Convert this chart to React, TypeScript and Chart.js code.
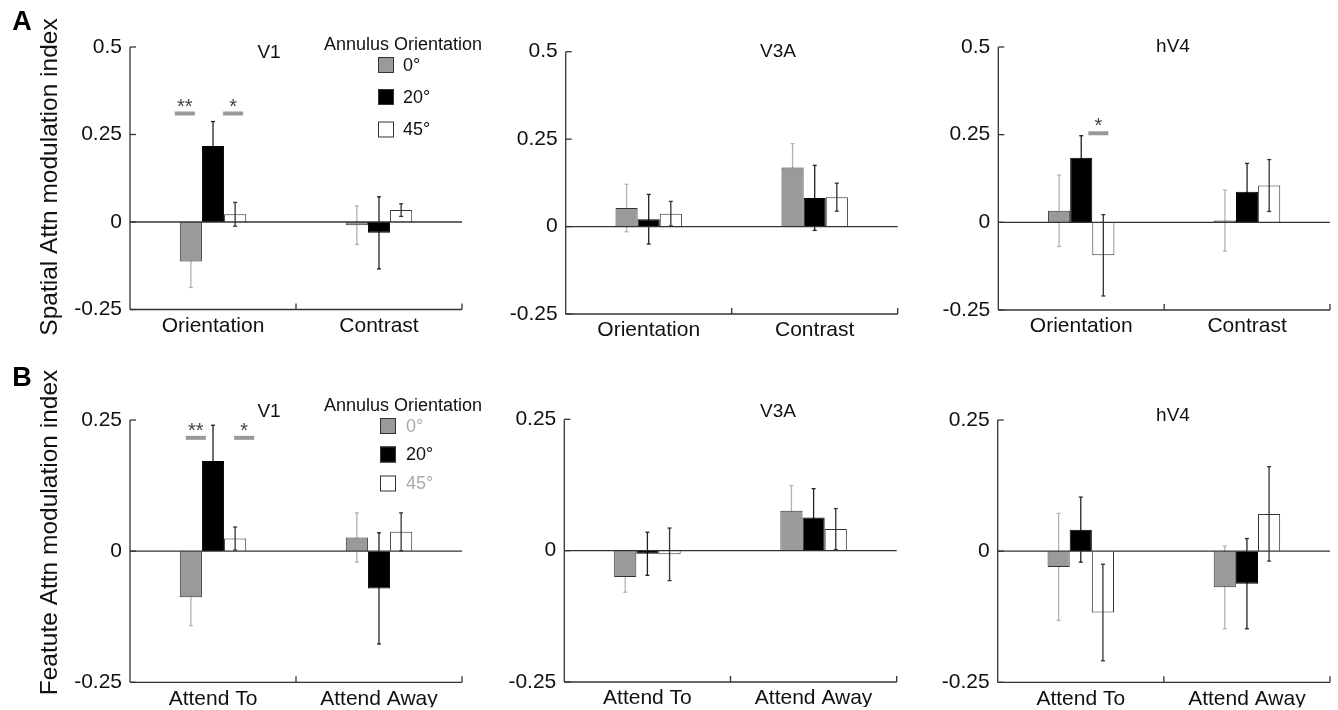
import React, { useEffect, useRef } from "react";
import { Chart, registerables } from "chart.js";
Chart.register(...registerables);

const W = 1338;
const H = 710;
const FONT = "'Liberation Sans', Arial, Helvetica, sans-serif";
const YW = 60;
const XH = 25;

// ---------- data ----------
const catsA = ["Orientation", "Contrast"];
const catsB = ["Attend To", "Attend Away"];
const orientLabels = ["0°", "20°", "45°"];
const yTicksA = [-0.25, 0, 0.25, 0.5];
const yTicksB = [-0.25, 0, 0.25];

// A: Spatial attention modulation index
const aV1_0 = [-0.113, -0.009];
const aV1_0Err = [0.074, 0.055];
const aV1_20 = [0.217, -0.031];
const aV1_20Err = [0.07, 0.103];
const aV1_45 = [0.022, 0.034];
const aV1_45Err = [0.034, 0.018];

const aV3A_0 = [0.053, 0.169];
const aV3A_0Err = [0.068, 0.068];
const aV3A_20 = [0.021, 0.082];
const aV3A_20Err = [0.071, 0.093];
const aV3A_45 = [0.037, 0.084];
const aV3A_45Err = [0.035, 0.04];

const aV4_0 = [0.033, 0.005];
const aV4_0Err = [0.102, 0.087];
const aV4_20 = [0.184, 0.087];
const aV4_20Err = [0.063, 0.081];
const aV4_45 = [-0.094, 0.105];
const aV4_45Err = [0.116, 0.074];

// B: Feature attention modulation index
const bV1_0 = [-0.088, 0.026];
const bV1_0Err = [0.054, 0.047];
const bV1_20 = [0.172, -0.071];
const bV1_20Err = [0.068, 0.106];
const bV1_45 = [0.024, 0.037];
const bV1_45Err = [0.022, 0.036];

const bV3A_0 = [-0.05, 0.076];
const bV3A_0Err = [0.029, 0.048];
const bV3A_20 = [-0.006, 0.063];
const bV3A_20Err = [0.041, 0.055];
const bV3A_45 = [-0.007, 0.041];
const bV3A_45Err = [0.05, 0.039];

const bV4_0 = [-0.03, -0.069];
const bV4_0Err = [0.102, 0.079];
const bV4_20 = [0.041, -0.062];
const bV4_20Err = [0.062, 0.086];
const bV4_45 = [-0.117, 0.071];
const bV4_45Err = [0.092, 0.09];

// significance markers: [category, series index, y value, label]
const sigAV1 = [[0, 0, 0.31, "**"], [0, 2, 0.31, "*"]];
const sigAV4 = [[0, 2, 0.254, "*"]];
const sigBV1 = [[0, 0, 0.216, "**"], [0, 2, 0.216, "*"]];

// ---------- styles ----------
const fills = ["#9a9a9a", "#000000", "#ffffff"];
const borders = ["#333333", "#000000", "#333333"];
const errColors = ["#b3b3b3", "#222222", "#333333"];
const errOnTop = [false, false, true];

type Panel = {
  title: string;
  cats: string[];
  ticks: number[];
  min: number;
  max: number;
  vals: number[][];
  errs: number[][];
  plot: { l: number; r: number; t: number; b: number };
  titlePos: [number, number];
  sig: any[];
  sigDx?: number[];
  legend?: { x: number; y: number; boxX: number; textX: number; rows: number[]; colors: string[] };
  letter?: { text: string; x: number; y: number };
  yTitle?: { text: string; x: number; y: number };
};

const panels: Panel[] = [
  {
    title: "V1", cats: catsA, ticks: yTicksA, min: -0.25, max: 0.5,
    vals: [aV1_0, aV1_20, aV1_45], errs: [aV1_0Err, aV1_20Err, aV1_45Err],
    plot: { l: 130, r: 462, t: 47, b: 309.5 }, titlePos: [269, 53],
    sig: sigAV1, sigDx: [-6, -2],
    legend: { x: 324, y: 45, boxX: 378, textX: 403, rows: [65, 97, 129.5], colors: ["#111", "#111", "#111"] },
    letter: { text: "A", x: 22, y: 23 },
    yTitle: { text: "Spatial Attn modulation index", x: 50, y: 177 },
  },
  {
    title: "V3A", cats: catsA, ticks: yTicksA, min: -0.25, max: 0.5,
    vals: [aV3A_0, aV3A_20, aV3A_45], errs: [aV3A_0Err, aV3A_20Err, aV3A_45Err],
    plot: { l: 565.7, r: 897.7, t: 51.7, b: 314 }, titlePos: [778, 52], sig: [],
  },
  {
    title: "hV4", cats: catsA, ticks: yTicksA, min: -0.25, max: 0.5,
    vals: [aV4_0, aV4_20, aV4_45], errs: [aV4_0Err, aV4_20Err, aV4_45Err],
    plot: { l: 998.3, r: 1330, t: 47, b: 310 }, titlePos: [1173, 47],
    sig: sigAV4, sigDx: [-5],
  },
  {
    title: "V1", cats: catsB, ticks: yTicksB, min: -0.25, max: 0.25,
    vals: [bV1_0, bV1_20, bV1_45], errs: [bV1_0Err, bV1_20Err, bV1_45Err],
    plot: { l: 130, r: 462, t: 420, b: 682.3 }, titlePos: [269, 412],
    sig: sigBV1, sigDx: [5, 9],
    legend: { x: 324, y: 406, boxX: 380, textX: 406, rows: [426, 454.5, 483.5], colors: ["#aaaaaa", "#111", "#aaaaaa"] },
    letter: { text: "B", x: 22, y: 379 },
    yTitle: { text: "Featute Attn modulation index", x: 50, y: 532.5 },
  },
  {
    title: "V3A", cats: catsB, ticks: yTicksB, min: -0.25, max: 0.25,
    vals: [bV3A_0, bV3A_20, bV3A_45], errs: [bV3A_0Err, bV3A_20Err, bV3A_45Err],
    plot: { l: 564.3, r: 896.7, t: 419.3, b: 682 }, titlePos: [778, 412], sig: [],
  },
  {
    title: "hV4", cats: catsB, ticks: yTicksB, min: -0.25, max: 0.25,
    vals: [bV4_0, bV4_20, bV4_45], errs: [bV4_0Err, bV4_20Err, bV4_45Err],
    plot: { l: 997.7, r: 1330, t: 420, b: 682.3 }, titlePos: [1173, 416], sig: [],
  },
];

function makeDecor(p: Panel) {
  const line = (ctx: CanvasRenderingContext2D, x1: number, y1: number, x2: number, y2: number, c: string, w: number) => {
    ctx.beginPath();
    ctx.strokeStyle = c;
    ctx.lineWidth = w;
    ctx.moveTo(x1, y1);
    ctx.lineTo(x2, y2);
    ctx.stroke();
  };
  const drawErr = (chart: any, top: boolean) => {
    const ctx = chart.ctx as CanvasRenderingContext2D;
    const ys = chart.scales.y;
    ctx.save();
    chart.data.datasets.forEach((ds: any, i: number) => {
      if (errOnTop[i] !== top) return;
      const meta = chart.getDatasetMeta(i);
      meta.data.forEach((bar: any, j: number) => {
        const v = ds.data[j];
        const e = ds.errors[j];
        const yh = ys.getPixelForValue(v + e);
        const yl = ys.getPixelForValue(v - e);
        const c = errColors[i];
        line(ctx, bar.x, yh, bar.x, yl, c, 1.3);
        line(ctx, bar.x - 2, yh, bar.x + 2, yh, c, 1.3);
        line(ctx, bar.x - 2, yl, bar.x + 2, yl, c, 1.3);
      });
    });
    ctx.restore();
  };
  return {
    id: "decor",
    beforeDatasetsDraw(chart: any) {
      drawErr(chart, false);
    },
    afterDatasetsDraw(chart: any) {
      const ctx = chart.ctx as CanvasRenderingContext2D;
      const { left, right, top, bottom } = chart.chartArea;
      const ys = chart.scales.y;
      const xs = chart.scales.x;
      ctx.save();
      // zero line
      const y0 = ys.getPixelForValue(0);
      line(ctx, left, y0, right, y0, "#333", 1.3);
      drawErr(chart, true);
      // axes
      line(ctx, left, top, left, bottom, "#333", 1.3);
      line(ctx, left, bottom, right, bottom, "#333", 1.3);
      p.ticks.forEach((t) => {
        const yy = ys.getPixelForValue(t);
        line(ctx, left, yy, left + 6, yy, "#333", 1.3);
      });
      const xm = xs.getPixelForValue(0.5);
      line(ctx, xm, bottom, xm, bottom - 6, "#333", 1.3);
      line(ctx, right, bottom, right, bottom - 6, "#333", 1.3);
      // significance markers
      p.sig.forEach((s: any, k: number) => {
        const [cat, si, val, label] = s;
        const bar = chart.getDatasetMeta(si).data[cat];
        const cx = bar.x + (p.sigDx ? p.sigDx[k] : 0);
        const yy = ys.getPixelForValue(val);
        line(ctx, cx - 10, yy, cx + 10, yy, "#999", 4);
        ctx.fillStyle = "#444";
        ctx.font = `20px ${FONT}`;
        ctx.textAlign = "center";
        ctx.textBaseline = "alphabetic";
        ctx.fillText(label, cx, yy - 1);
      });
      // title
      ctx.fillStyle = "#111";
      ctx.font = `19px ${FONT}`;
      ctx.textAlign = "center";
      ctx.textBaseline = "middle";
      ctx.fillText(p.title, p.titlePos[0], p.titlePos[1]);
      // legend
      if (p.legend) {
        const lg = p.legend;
        ctx.font = `18px ${FONT}`;
        ctx.textAlign = "left";
        ctx.fillStyle = "#111";
        ctx.fillText("Annulus Orientation", lg.x, lg.y);
        lg.rows.forEach((ry, i) => {
          ctx.fillStyle = fills[i];
          ctx.fillRect(lg.boxX, ry - 8, 16, 16);
          ctx.strokeStyle = "#333";
          ctx.lineWidth = 1;
          ctx.strokeRect(lg.boxX + 0.5, ry - 7.5, 15, 15);
          ctx.fillStyle = lg.colors[i];
          ctx.fillText(orientLabels[i], lg.textX, ry + 1);
        });
      }
      if (p.letter) {
        ctx.fillStyle = "#000";
        ctx.font = `bold 27px ${FONT}`;
        ctx.textAlign = "center";
        ctx.textBaseline = "middle";
        ctx.fillText(p.letter.text, p.letter.x, p.letter.y);
      }
      if (p.yTitle) {
        ctx.save();
        ctx.translate(p.yTitle.x, p.yTitle.y);
        ctx.rotate(-Math.PI / 2);
        ctx.fillStyle = "#111";
        ctx.font = `24.5px ${FONT}`;
        ctx.textAlign = "center";
        ctx.textBaseline = "middle";
        ctx.fillText(p.yTitle.text, 0, 0);
        ctx.restore();
      }
      ctx.restore();
    },
  };
}

function PanelChart({ p }: { p: Panel }) {
  const ref = useRef<HTMLCanvasElement>(null);
  useEffect(() => {
    const chart = new Chart(ref.current as HTMLCanvasElement, {
      type: "bar",
      data: {
        labels: p.cats,
        datasets: p.vals.map((v, i) => ({
          label: orientLabels[i],
          data: v,
          errors: p.errs[i],
          backgroundColor: fills[i],
          borderColor: borders[i],
          borderWidth: 1,
          categoryPercentage: 0.4,
          barPercentage: 1,
        })) as any,
      },
      options: {
        animation: false,
        responsive: false,
        maintainAspectRatio: false,
        layout: {
          padding: {
            left: p.plot.l - YW,
            top: p.plot.t,
            right: W - p.plot.r,
            bottom: H - p.plot.b - XH,
          },
        },
        plugins: { legend: { display: false }, tooltip: { enabled: false } },
        scales: {
          x: {
            grid: { display: false, drawTicks: false },
            border: { display: false },
            ticks: { font: { size: 21, family: FONT }, color: "#111", padding: 4, maxRotation: 0, autoSkip: false },
            afterFit: (s: any) => { s.height = XH; },
          },
          y: {
            min: p.min,
            max: p.max,
            grid: { display: false, drawTicks: false },
            border: { display: false },
            ticks: { font: { size: 21, family: FONT }, color: "#111", padding: 8, callback: (v: any) => String(v) },
            afterBuildTicks: (s: any) => { s.ticks = p.ticks.map((v) => ({ value: v })); },
            afterFit: (s: any) => { s.width = YW; },
          },
        },
      } as any,
      plugins: [makeDecor(p)],
    });
    return () => chart.destroy();
  }, []);
  return <canvas ref={ref} width={W} height={H} style={{ position: "absolute", left: 0, top: 0 }} />;
}

export default function App() {
  return (
    <div style={{ position: "fixed", left: 0, top: 0, width: W, height: H, background: "#fff", overflow: "hidden" }}>
      {panels.map((p, i) => (
        <PanelChart key={i} p={p} />
      ))}
    </div>
  );
}
